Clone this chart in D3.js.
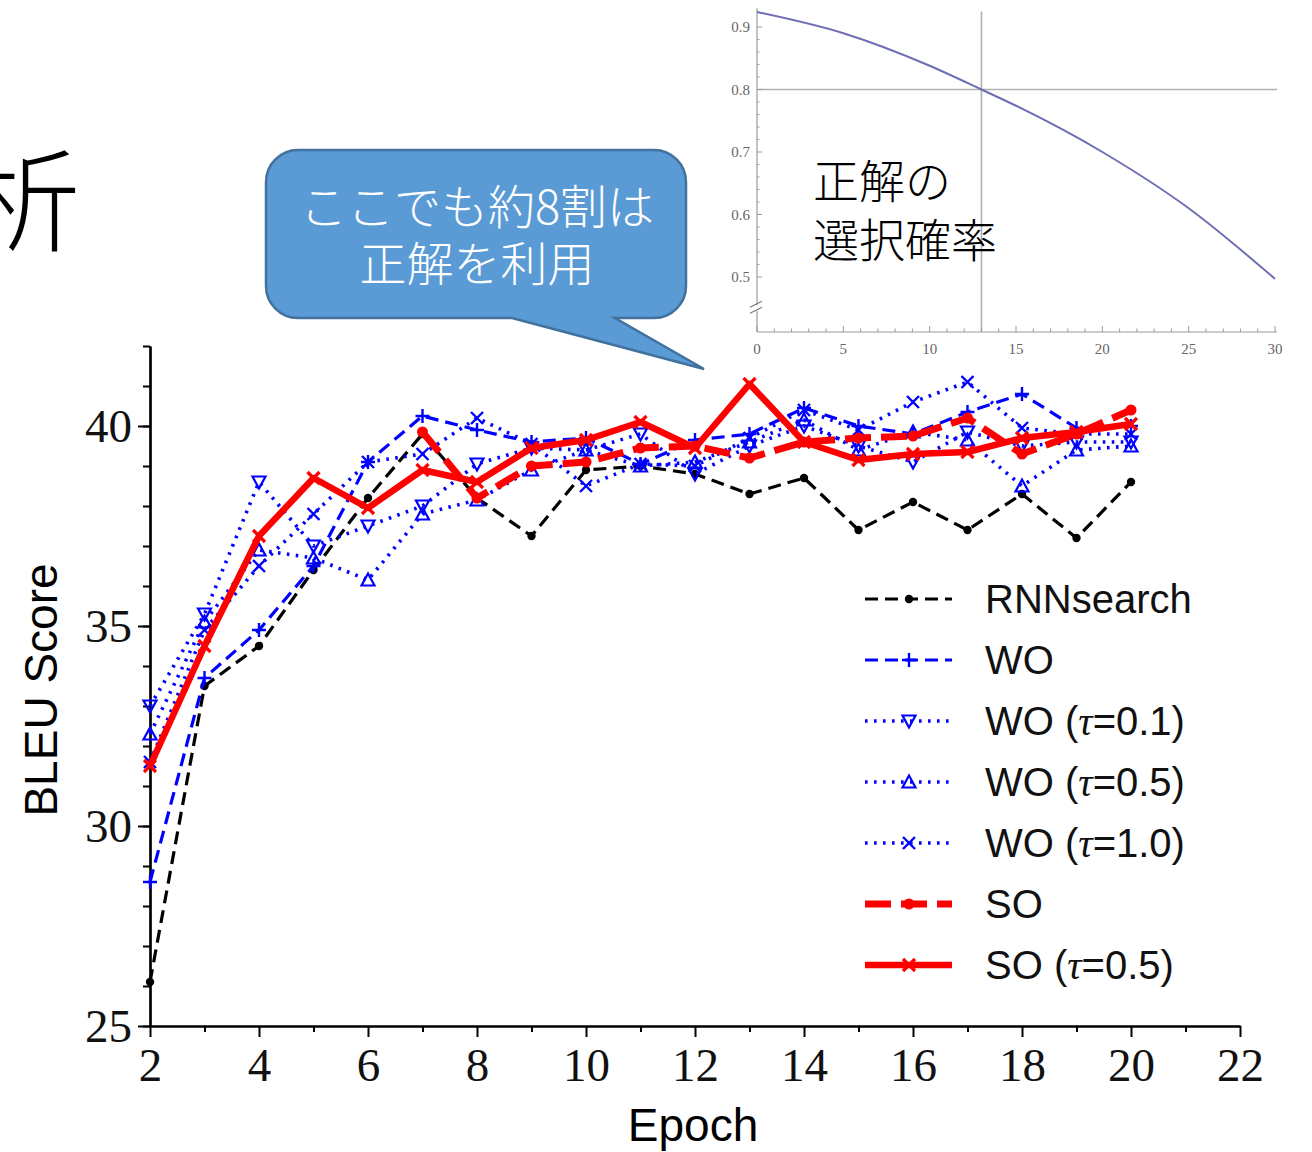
<!DOCTYPE html>
<html>
<head>
<meta charset="utf-8">
<script src="https://cdn.jsdelivr.net/npm/d3@7"></script>
<style>
  html, body { margin: 0; padding: 0; background: #fff; }
  svg { display: block; }
</style>
</head>
<body>
<svg id="chart" width="1312" height="1152"></svg>
<script>
// ---------------- DATA ----------------
const epochs    = [2,3,4,5,6,7,8,9,10,11,12,13,14,15,16,17,18,19,20];
const rnnsearch = [26.1,33.5,34.5,36.4,38.2,39.8,38.2,37.25,38.9,39.0,38.8,38.3,38.7,37.4,38.1,37.4,38.3,37.2,38.6];
const wo        = [28.6,33.7,34.9,36.5,39.1,40.25,39.9,39.6,39.7,39.05,39.65,39.8,40.45,40.0,39.8,40.35,40.8,39.95,40.0];
const wo01      = [33.0,35.3,38.6,37.0,37.5,38.0,39.05,39.45,39.4,39.8,38.8,39.5,40.0,39.5,39.1,39.85,39.5,39.6,39.6];
const wo05      = [32.3,35.1,36.9,36.7,36.15,37.8,38.15,38.9,39.4,39.0,39.1,39.6,40.15,39.4,39.85,39.65,38.5,39.4,39.5];
const wo10      = [31.6,34.9,36.5,37.8,39.1,39.3,40.2,39.55,38.5,39.05,39.0,39.7,40.4,39.9,40.6,41.1,39.95,39.8,39.8];
const so        = [null,null,null,null,null,39.85,38.2,39.0,39.1,39.45,39.5,39.2,39.6,39.7,39.75,40.2,39.3,39.8,40.4];
const so05      = [31.5,34.5,37.25,38.7,37.95,38.9,38.6,39.45,39.65,40.1,39.45,41.05,39.6,39.15,39.3,39.35,39.7,39.85,40.05];

const seriesNames = ["RNNsearch","WO","WO (τ=0.1)","WO (τ=0.5)","WO (τ=1.0)","SO","SO (τ=0.5)"];

const xTicks = [2,4,6,8,10,12,14,16,18,20,22];
const yTicks = [25,30,35,40];

// inset (probability of choosing ground truth)
const probEpoch = [0,5,10,13,15,20,25,30];
const probValue = [0.924,0.890,0.838,0.800,0.774,0.700,0.610,0.497];
const insetXTicks = [0,5,10,15,20,25,30];
const insetYTicks = [0.5,0.6,0.7,0.8,0.9];
const insetMarkX = 13, insetMarkY = 0.8;

const calloutLines = ["ここでも約8割は","正解を利用"];
const insetLines = ["正解の","選択確率"];
const titleFragment = "析";

// ---------------- DRAW ----------------
const svg = d3.select("#chart");
svg.append("rect").attr("width",1312).attr("height",1152).attr("fill","#fff");

// title fragment (cut at the left edge, as on the slide)
svg.append("text").attr("x",-32).attr("y",194)
  .attr("dominant-baseline","central")
  .style("font-family","'Noto Sans CJK JP'").style("font-weight",300)
  .style("font-size","112px").attr("fill","#000").text(titleFragment);

const x = d3.scaleLinear().domain([2,22]).range([150,1240]);
const y = d3.scaleLinear().domain([25,42]).range([1026,346]);

// axes
const serif = "'Liberation Serif','DejaVu Serif',serif";
const yMinor = svg.append("g").attr("transform","translate(150,0)")
  .call(d3.axisLeft(y).tickValues(d3.range(25,43)).tickSize(7).tickSizeOuter(0).tickFormat(""));
const yMajor = svg.append("g").attr("transform","translate(150,0)")
  .call(d3.axisLeft(y).tickValues(yTicks).tickSize(12).tickSizeOuter(0).tickPadding(6));
const xMinor = svg.append("g").attr("transform","translate(0,1026)")
  .call(d3.axisBottom(x).tickValues(d3.range(3,22,2)).tickSize(6).tickSizeOuter(0).tickFormat(""));
const xMajor = svg.append("g").attr("transform","translate(0,1026)")
  .call(d3.axisBottom(x).tickValues(xTicks).tickSize(11).tickSizeOuter(0).tickPadding(11));
[yMinor,yMajor,xMinor,xMajor].forEach(g=>{
  g.selectAll("path.domain").attr("stroke","#000").attr("stroke-width",2.2);
  g.selectAll(".tick line").attr("stroke","#000").attr("stroke-width",2);
  g.selectAll("text").style("font-family",serif).style("font-size","47px").attr("fill","#111");
});
yMajor.selectAll("text").attr("dy","0.34em");

svg.append("text").attr("x",693).attr("y",1141).attr("text-anchor","middle")
  .style("font-family","'Liberation Sans',Arial,sans-serif").style("font-size","46px")
  .attr("fill","#000").text("Epoch");
svg.append("text").attr("transform","translate(57,690) rotate(-90)").attr("text-anchor","middle")
  .style("font-family","'Liberation Sans',Arial,sans-serif").style("font-size","46px")
  .attr("fill","#000").text("BLEU Score");

// marker shapes
const markers = {
  dot:   (g,c,s)=>g.append("circle").attr("r",s||4.2).attr("fill",c),
  plus:  (g,c)=>g.append("path").attr("d","M-7,0H7M0,-7V7").attr("stroke",c).attr("stroke-width",2.4).attr("fill","none"),
  tdown: (g,c)=>g.append("path").attr("d","M-6.5,-5.5H6.5L0,6.5Z").attr("stroke",c).attr("stroke-width",2.2).attr("fill","none"),
  tup:   (g,c)=>g.append("path").attr("d","M-6.5,5.5H6.5L0,-6.5Z").attr("stroke",c).attr("stroke-width",2.2).attr("fill","none"),
  cross: (g,c,w)=>g.append("path").attr("d","M-6,-6L6,6M-6,6L6,-6").attr("stroke",c).attr("stroke-width",w||2.4).attr("fill","none")
};

const styles = [
  {vals:rnnsearch, color:"#000",   width:3.2, dash:"13,7", marker:"dot", ms:4.2},
  {vals:wo,        color:"#0000ff",width:3.2, dash:"13,7", marker:"plus"},
  {vals:wo01,      color:"#0000ff",width:3.6, dash:"2.6,6.4", marker:"tdown"},
  {vals:wo05,      color:"#0000ff",width:3.6, dash:"2.6,6.4", marker:"tup"},
  {vals:wo10,      color:"#0000ff",width:3.6, dash:"2.6,6.4", marker:"cross"},
  {vals:so,        color:"#ff0000",width:7,   dash:"26,10", marker:"dot", ms:5.5},
  {vals:so05,      color:"#ff0000",width:6.5, dash:null,    marker:"cross", mw:3.2}
];

const line = d3.line().defined(d=>d.v!=null).x(d=>x(d.e)).y(d=>y(d.v));
const plot = svg.append("g");
styles.forEach(s=>{
  const data = epochs.map((e,i)=>({e:e, v:s.vals[i]}));
  const g = plot.append("g");
  g.append("path").datum(data).attr("d",line).attr("fill","none")
    .attr("stroke",s.color).attr("stroke-width",s.width)
    .attr("stroke-dasharray",s.dash).attr("stroke-linejoin","round");
  data.filter(d=>d.v!=null).forEach(d=>{
    const mg = g.append("g").attr("transform",`translate(${x(d.e)},${y(d.v)})`);
    markers[s.marker](mg,s.color,s.ms||s.mw);
  });
});

// legend
const legend = svg.append("g");
const sans = "'Liberation Sans',Arial,sans-serif";
styles.forEach((s,i)=>{
  const cy = 599 + i*61;
  const g = legend.append("g").attr("transform",`translate(0,${cy})`);
  g.append("line").attr("x1",865).attr("x2",952).attr("y1",0).attr("y2",0)
    .attr("stroke",s.color).attr("stroke-width",s.width).attr("stroke-dasharray",s.dash);
  const mg = g.append("g").attr("transform","translate(909,0)");
  markers[s.marker](mg,s.color,s.ms||s.mw);
  const t = g.append("text").attr("x",985).attr("y",0).attr("dominant-baseline","central")
    .style("font-family",sans).style("font-size","40px").attr("fill","#111");
  const name = seriesNames[i];
  const k = name.indexOf("τ");
  if (k<0) { t.text(name); }
  else {
    t.append("tspan").text(name.slice(0,k));
    t.append("tspan").style("font-family",serif).style("font-style","italic").text("τ");
    t.append("tspan").text(name.slice(k+1));
  }
});

// callout balloon
const bx0=266, by0=150, bx1=686, by1=318, r=32;
const p = d3.path();
p.moveTo(bx0+r,by0);
p.lineTo(bx1-r,by0); p.arcTo(bx1,by0,bx1,by0+r,r);
p.lineTo(bx1,by1-r); p.arcTo(bx1,by1,bx1-r,by1,r);
p.lineTo(615,by1); p.lineTo(704,369); p.lineTo(512,by1);
p.lineTo(bx0+r,by1); p.arcTo(bx0,by1,bx0,by1-r,r);
p.lineTo(bx0,by0+r); p.arcTo(bx0,by0,bx0+r,by0,r);
p.closePath();
svg.append("path").attr("d",p.toString()).attr("fill","#5b9bd5")
  .attr("stroke","#41719c").attr("stroke-width",2.5);
calloutLines.forEach((t,i)=>{
  svg.append("text").attr("x",477).attr("y",203+i*57).attr("text-anchor","middle")
    .attr("dominant-baseline","central")
    .style("font-family","'Noto Sans CJK JP'").style("font-weight",300)
    .style("font-size","47px").attr("fill","#fff").text(t);
});

// ---------------- INSET ----------------
const inset = svg.append("g");
inset.append("rect").attr("x",706).attr("y",0).attr("width",606).attr("height",374).attr("fill","#fff");
const xi = d3.scaleLinear().domain([0,30]).range([757,1275]);
const yi = d3.scaleLinear().domain([0.5,0.9]).range([277,27]);
const axisY = 332;
const grey = "#9a9a9a";

// grid lines
inset.append("line").attr("x1",xi(insetMarkX)).attr("x2",xi(insetMarkX)).attr("y1",yi(0.925)).attr("y2",axisY)
  .attr("stroke","#b0b0b0").attr("stroke-width",1.6);
inset.append("line").attr("x1",xi(0)).attr("x2",xi(30)+2).attr("y1",yi(insetMarkY)).attr("y2",yi(insetMarkY))
  .attr("stroke","#b0b0b0").attr("stroke-width",1.6);

// axes lines
inset.append("line").attr("x1",xi(0)).attr("x2",xi(0)).attr("y1",yi(0.93)).attr("y2",axisY).attr("stroke",grey).attr("stroke-width",1.2);
inset.append("line").attr("x1",xi(0)).attr("x2",xi(30)+2).attr("y1",axisY).attr("y2",axisY).attr("stroke",grey).attr("stroke-width",1.2);
// x ticks
inset.selectAll(".ixm").data(d3.range(0,31)).join("line")
  .attr("x1",d=>xi(d)).attr("x2",d=>xi(d)).attr("y1",axisY).attr("y2",d=>axisY-(d%5===0?6:3.5))
  .attr("stroke",grey).attr("stroke-width",1);
// y ticks
inset.selectAll(".iym").data(d3.range(0.5,0.92,0.02)).join("line")
  .attr("x1",xi(0)).attr("x2",d=>xi(0)+(Math.abs(Math.round(d*10)-d*10)<1e-6?5:2.5))
  .attr("y1",d=>yi(d)).attr("y2",d=>yi(d))
  .attr("stroke",grey).attr("stroke-width",1);
// break mark
inset.append("rect").attr("x",xi(0)-2).attr("y",yi(0.45)-3).attr("width",4).attr("height",6).attr("fill","#fff");
[0,6].forEach(o=>{
  inset.append("line").attr("x1",xi(0)-7).attr("x2",xi(0)+5).attr("y1",yi(0.45)+2+o-3).attr("y2",yi(0.45)-4+o-3)
    .attr("stroke","#777").attr("stroke-width",1.2);
});
// labels
inset.selectAll(".ixl").data(insetXTicks).join("text")
  .attr("x",d=>xi(d)).attr("y",349).attr("text-anchor","middle").attr("dominant-baseline","central")
  .style("font-family",serif).style("font-size","15px").attr("fill","#666").text(d=>d);
inset.selectAll(".iyl").data(insetYTicks).join("text")
  .attr("x",xi(0)-7).attr("y",d=>yi(d)).attr("text-anchor","end").attr("dominant-baseline","central")
  .style("font-family",serif).style("font-size","15px").attr("fill","#666").text(d=>d.toFixed(1));
// curve
const curve = d3.line().x(d=>xi(d.e)).y(d=>yi(d.v)).curve(d3.curveMonotoneX);
inset.append("path").datum(probEpoch.map((e,i)=>({e:e,v:probValue[i]})))
  .attr("d",curve).attr("fill","none").attr("stroke","#6e6eb4").attr("stroke-width",2);
// inset text
insetLines.forEach((t,i)=>{
  inset.append("text").attr("x",813).attr("y",178+i*59).attr("dominant-baseline","central")
    .style("font-family","'Noto Sans CJK JP'").style("font-weight",300)
    .style("font-size","46px").attr("fill","#000").text(t);
});
</script>
</body>
</html>
